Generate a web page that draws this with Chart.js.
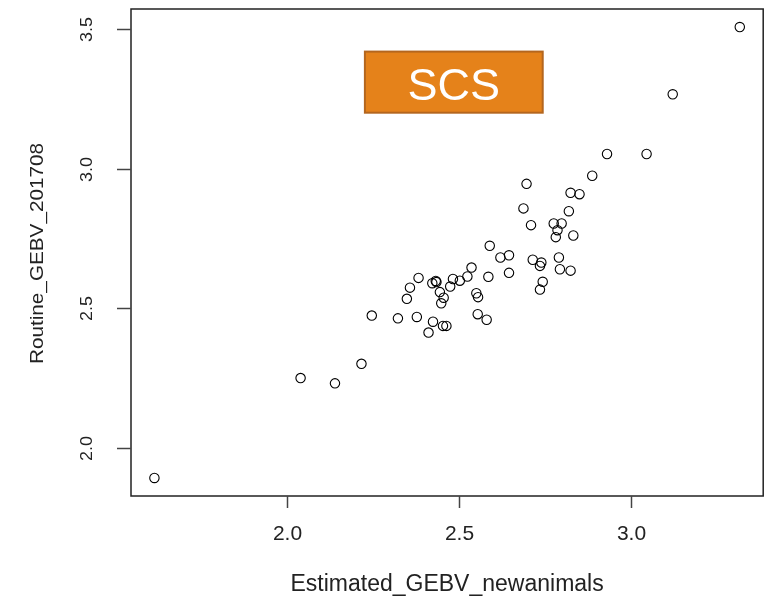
<!DOCTYPE html>
<html>
<head>
<meta charset="utf-8">
<script src="https://cdn.jsdelivr.net/npm/chart.js@4.4.1/dist/chart.umd.min.js"></script>
<style>
  html, body { margin: 0; padding: 0; background: #fff; }
  #wrap { width: 769px; height: 597px; position: relative; }
</style>
</head>
<body>
<div id="wrap"><canvas id="scatter"></canvas></div>
<script>
// values
const estimatedGEBV = [
  1.615, 2.040, 2.140, 2.217, 2.247, 2.323, 2.378, 2.349, 2.358, 2.383,
  2.425, 2.412, 2.454, 2.464, 2.423, 2.433, 2.435, 2.445, 2.456, 2.449,
  2.483, 2.475, 2.503, 2.525, 2.537, 2.551, 2.556, 2.555, 2.581, 2.586,
  2.590, 2.621, 2.646, 2.646, 2.688, 2.697, 2.710, 2.715, 2.740, 2.736,
  2.744, 2.736, 2.776, 2.799, 2.787, 2.782, 2.833, 2.791, 2.794, 2.825,
  2.820, 2.825, 2.851, 2.888, 2.931, 3.046, 3.122, 3.317
];
const routineGEBV = [
  1.892, 2.250, 2.231, 2.301, 2.474, 2.464, 2.469, 2.534, 2.574, 2.609,
  2.452, 2.413, 2.437, 2.437, 2.590, 2.598, 2.594, 2.558, 2.538, 2.518,
  2.605, 2.578, 2.599, 2.614, 2.646, 2.554, 2.540, 2.479, 2.459, 2.613,
  2.724, 2.682, 2.690, 2.627, 2.858, 2.946, 2.798, 2.674, 2.664, 2.652,
  2.595, 2.567, 2.804, 2.804, 2.780, 2.755, 2.761, 2.682, 2.640, 2.635,
  2.848, 2.914, 2.909, 2.975, 3.053, 3.053, 3.267, 3.508
];
const xTicks = [2.0, 2.5, 3.0];
const yTicks = [2.0, 2.5, 3.0, 3.5];
const xTitle = 'Estimated_GEBV_newanimals';
const yTitle = 'Routine_GEBV_201708';
const tagText = 'SCS';

const points = estimatedGEBV.map((v, i) => ({ x: v, y: routineGEBV[i] }));

// R style axis limits: data range plus 4% each side
function rRange(arr) {
  const lo = Math.min(...arr), hi = Math.max(...arr);
  const pad = (hi - lo) * 0.04;
  return [lo - pad, hi + pad];
}
const [xMin, xMax] = rRange(estimatedGEBV);
const [yMin, yMax] = rRange(routineGEBV);

const FONT = '"Liberation Sans", Arial, sans-serif';

// draws box, ticks, labels and the SCS tag the way base R does
const rAxes = {
  id: 'rAxes',
  afterDraw(chart) {
    const ctx = chart.ctx;
    const a = chart.chartArea;
    const x = chart.scales.x, y = chart.scales.y;
    ctx.save();

    // tag box
    const bx0 = x.getPixelForValue(2.227), bx1 = x.getPixelForValue(2.744);
    const by0 = y.getPixelForValue(3.420), by1 = y.getPixelForValue(3.201);
    ctx.fillStyle = '#E5821A';
    ctx.fillRect(bx0, by0, bx1 - bx0, by1 - by0);
    ctx.strokeStyle = '#B4661E';
    ctx.lineWidth = 2;
    ctx.strokeRect(bx0, by0, bx1 - bx0, by1 - by0);
    ctx.fillStyle = '#fff';
    ctx.font = '45px ' + FONT;
    ctx.textAlign = 'center';
    ctx.textBaseline = 'alphabetic';
    ctx.fillText(tagText, (bx0 + bx1) / 2, by1 - 13);

    // frame
    ctx.strokeStyle = '#222';
    ctx.lineWidth = 1.5;
    ctx.strokeRect(a.left, a.top, a.right - a.left, a.bottom - a.top);

    ctx.strokeStyle = '#444';
    ctx.lineWidth = 1.5;
    ctx.fillStyle = '#222';

    // x ticks
    ctx.font = '21px ' + FONT;
    xTicks.forEach(v => {
      const px = Math.round(x.getPixelForValue(v)) + 0.5;
      ctx.beginPath();
      ctx.moveTo(px, a.bottom);
      ctx.lineTo(px, a.bottom + 12);
      ctx.stroke();
      ctx.fillText(v.toFixed(1), px, a.bottom + 44);
    });

    // y ticks (labels parallel to the axis)
    ctx.font = '16px ' + FONT;
    yTicks.forEach(v => {
      const py = Math.round(y.getPixelForValue(v)) + 0.5;
      ctx.beginPath();
      ctx.moveTo(a.left - 14, py);
      ctx.lineTo(a.left, py);
      ctx.stroke();
      ctx.save();
      ctx.translate(a.left - 39, py);
      ctx.rotate(-Math.PI / 2);
      ctx.scale(1.12, 1);
      ctx.fillText(v.toFixed(1), 0, 0);
      ctx.restore();
    });

    // axis titles
    ctx.font = '23px ' + FONT;
    ctx.fillText(xTitle, (a.left + a.right) / 2, 591);

    ctx.font = '18px ' + FONT;
    ctx.save();
    ctx.translate(43, (a.top + a.bottom) / 2 + 1);
    ctx.rotate(-Math.PI / 2);
    ctx.scale(1.15, 1);
    ctx.fillText(yTitle, 0, 0);
    ctx.restore();

    ctx.restore();
  }
};

new Chart(document.getElementById('scatter').getContext('2d'), {
  type: 'scatter',
  data: {
    datasets: [{
      data: points,
      pointStyle: 'circle',
      pointRadius: 4.7,
      pointHoverRadius: 4.7,
      backgroundColor: 'rgba(0,0,0,0)',
      borderColor: '#000',
      borderWidth: 1.1
    }]
  },
  options: {
    responsive: true,
    maintainAspectRatio: false,
    animation: false,
    events: [],
    layout: {
      padding: { left: 131, right: 2, top: 9, bottom: 101 }
    },
    scales: {
      x: { type: 'linear', min: xMin, max: xMax, display: false },
      y: { type: 'linear', min: yMin, max: yMax, display: false }
    },
    plugins: {
      legend: { display: false },
      tooltip: { enabled: false }
    }
  },
  plugins: [rAxes]
});
</script>
</body>
</html>
